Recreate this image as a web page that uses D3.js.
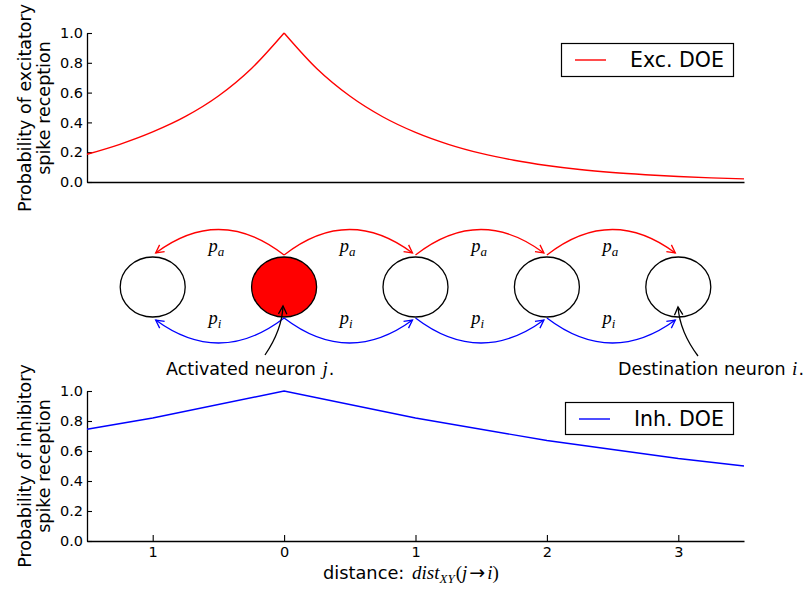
<!DOCTYPE html>
<html>
<head>
<meta charset="utf-8">
<script src="https://cdn.jsdelivr.net/npm/d3@7"></script>
<style>
  html, body { margin: 0; padding: 0; background: #ffffff; }
  svg { display: block; }
</style>
</head>
<body>
<script>
// ---------------- data ----------------
const excX = [-1.5, -1.25, -1, -0.75, -0.5, -0.25, 0, 0.25, 0.5, 0.75, 1, 1.25, 1.5, 1.75, 2, 2.25, 2.5, 2.75, 3, 3.25, 3.5];
const excY = [0.186, 0.253, 0.336, 0.44, 0.577, 0.76, 1.0, 0.76, 0.577, 0.438, 0.333, 0.253, 0.192, 0.146, 0.111, 0.084, 0.064, 0.049, 0.037, 0.028, 0.021];
const inhX = [-1.5, -1, 0, 1, 2, 3, 3.5];
const inhY = [0.745, 0.82, 1.0, 0.82, 0.67, 0.55, 0.50];
const yTicks = [0, 0.2, 0.4, 0.6, 0.8, 1.0];
const xTicks = [-1, 0, 1, 2, 3];
const xTickLabels = ["1", "0", "1", "2", "3"];
const seriesNames = ["Exc. DOE", "Inh. DOE"];
const seriesColors = ["#ff0000", "#0000ff"];
const neuronPos = [-1, 0, 1, 2, 3];
const activatedPos = 0;
const edges = [[0, -1], [0, 1], [1, 2], [2, 3]];

// ---------------- layout ----------------
const W = 805, H = 590;
const sansFont = "DejaVu Sans";
const mathFont = "Liberation Serif";
const svg = d3.select("body").append("svg").attr("width", W).attr("height", H);
svg.append("rect").attr("width", W).attr("height", H).attr("fill", "#fff");

const x = d3.scaleLinear().domain([-1.5, 3.5]).range([87, 744]);
const yTop = d3.scaleLinear().domain([0, 1]).range([182, 33]);
const yBot = d3.scaleLinear().domain([0, 1]).range([541, 391]);

function styleAxis(g) {
  g.attr("font-family", sansFont).attr("font-size", 14.5);
  g.select(".domain").attr("stroke", "#000").attr("stroke-width", 1.3);
  g.selectAll(".tick line").attr("stroke", "#000").attr("stroke-width", 1.1);
  g.selectAll(".tick text").attr("fill", "#000");
}

// top axes
svg.append("g").attr("transform", "translate(87,0)")
  .call(d3.axisLeft(yTop).tickValues(yTicks).tickFormat(d3.format(".1f")).tickSizeInner(-5).tickSizeOuter(0).tickPadding(4))
  .call(styleAxis);
svg.append("g").attr("transform", "translate(0,182)")
  .call(d3.axisBottom(x).tickValues([]).tickSizeOuter(0))
  .call(styleAxis);

// bottom axes
svg.append("g").attr("transform", "translate(87,0)")
  .call(d3.axisLeft(yBot).tickValues(yTicks).tickFormat(d3.format(".1f")).tickSizeInner(-5).tickSizeOuter(0).tickPadding(4))
  .call(styleAxis);
svg.append("g").attr("transform", "translate(0,541)")
  .call(d3.axisBottom(x).tickValues(xTicks).tickFormat((d, i) => xTickLabels[i]).tickSizeInner(-6).tickSizeOuter(0).tickPadding(6))
  .call(styleAxis);

// curves
const excPts = excX.map((v, i) => [v, excY[i]]);
const lineTop = d3.line().x(d => x(d[0])).y(d => yTop(d[1])).curve(d3.curveMonotoneX);
svg.append("path").datum(excPts.filter(d => d[0] <= 0)).attr("d", lineTop)
  .attr("fill", "none").attr("stroke", seriesColors[0]).attr("stroke-width", 1.4);
svg.append("path").datum(excPts.filter(d => d[0] >= 0)).attr("d", lineTop)
  .attr("fill", "none").attr("stroke", seriesColors[0]).attr("stroke-width", 1.4);

const inhPts = inhX.map((v, i) => [v, inhY[i]]);
svg.append("path").datum(inhPts)
  .attr("d", d3.line().x(d => x(d[0])).y(d => yBot(d[1])))
  .attr("fill", "none").attr("stroke", seriesColors[1]).attr("stroke-width", 1.4);

// y labels
function yLabel(cy, l1, l2) {
  [[31, l1], [50, l2]].forEach(([bx, t]) => {
    svg.append("text").attr("transform", `translate(${bx},${cy}) rotate(-90)`)
      .attr("text-anchor", "middle").attr("font-family", sansFont).attr("font-size", 17.5)
      .attr("fill", "#000").text(t);
  });
}
yLabel(108, "Probability of excitatory", "spike reception");
yLabel(466, "Probability of inhibitory", "spike reception");

// legends
function legend(x0, y0, w, h, color, name) {
  svg.append("rect").attr("x", x0 + 0.5).attr("y", y0 + 0.5).attr("width", w).attr("height", h)
    .attr("fill", "#fff").attr("stroke", "#000").attr("stroke-width", 1.2);
  svg.append("line").attr("x1", x0 + 14).attr("x2", x0 + 45).attr("y1", y0 + 17).attr("y2", y0 + 17)
    .attr("stroke", color).attr("stroke-width", 1.4);
  svg.append("text").attr("x", x0 + 69).attr("y", y0 + 24).attr("font-family", sansFont)
    .attr("font-size", 20.5).attr("fill", "#000").text(name);
}
legend(561, 43, 172, 33, seriesColors[0], seriesNames[0]);
legend(565, 402, 168, 32, seriesColors[1], seriesNames[1]);

// ---------------- diagram ----------------
const defs = svg.append("defs");
function marker(id, color) {
  defs.append("marker").attr("id", id).attr("viewBox", "-10 -6 12 12")
    .attr("markerUnits", "userSpaceOnUse").attr("markerWidth", 12).attr("markerHeight", 12)
    .attr("refX", 0).attr("refY", 0).attr("orient", "auto")
    .append("path").attr("d", "M-8,-4.2L0,0L-8,4.2").attr("fill", "none")
    .attr("stroke", color).attr("stroke-width", 1.3);
}
marker("arR", seriesColors[0]);
marker("arB", seriesColors[1]);
marker("arK", "#000");

const cy = 287, rx = 32.5, ry = 30;
svg.selectAll("ellipse.neuron").data(neuronPos).enter().append("ellipse")
  .attr("cx", d => x(d)).attr("cy", cy).attr("rx", rx).attr("ry", ry)
  .attr("fill", d => d === activatedPos ? "#ff0000" : "#fff")
  .attr("stroke", "#000").attr("stroke-width", 1.3);

edges.forEach(([a, b]) => {
  const x0 = x(a), x1 = x(b) + (b > a ? -3 : 3);
  const mx = (x0 + x(b)) / 2;
  svg.append("path")
    .attr("d", `M${x0},255Q${(x0 + x1) / 2},205 ${x1},253`)
    .attr("fill", "none").attr("stroke", seriesColors[0]).attr("stroke-width", 1.3)
    .attr("marker-end", "url(#arR)");
  svg.append("path")
    .attr("d", `M${x0},318Q${(x0 + x1) / 2},367 ${x1},320`)
    .attr("fill", "none").attr("stroke", seriesColors[1]).attr("stroke-width", 1.3)
    .attr("marker-end", "url(#arB)");
  [["a", 252], ["i", 324]].forEach(([sub, by]) => {
    const t = svg.append("text").attr("x", mx - 10).attr("y", by)
      .attr("font-family", mathFont).attr("font-style", "italic").attr("fill", "#000");
    t.append("tspan").attr("font-size", 18.5).text("p");
    t.append("tspan").attr("font-size", 13).attr("dy", 3.5).text(sub);
  });
});

// annotations
svg.append("path").attr("d", "M265,355Q282,330 283,306")
  .attr("fill", "none").attr("stroke", "#000").attr("stroke-width", 1.3).attr("marker-end", "url(#arK)");
svg.append("path").attr("d", "M698,356Q680,332 678,307")
  .attr("fill", "none").attr("stroke", "#000").attr("stroke-width", 1.3).attr("marker-end", "url(#arK)");

function annot(x0, y0, label, v) {
  const t = svg.append("text").attr("x", x0).attr("y", y0).attr("font-family", sansFont)
    .attr("font-size", 17.5).attr("fill", "#000");
  t.append("tspan").text(label);
  t.append("tspan").attr("font-family", mathFont).attr("font-style", "italic").attr("font-size", 19).attr("dx", 1).text(v);
  t.append("tspan").attr("dx", 1).text(".");
}
annot(166, 375, "Activated neuron ", "j");
annot(618, 375, "Destination neuron ", "i");

// x label
const xl = svg.append("text").attr("x", 323).attr("y", 579).attr("font-family", sansFont)
  .attr("font-size", 17.8).attr("fill", "#000");
xl.append("tspan").text("distance: ");
xl.append("tspan").attr("font-family", mathFont).attr("font-style", "italic").attr("font-size", 19).attr("dx", 2).text("dist");
xl.append("tspan").attr("font-family", mathFont).attr("font-style", "italic").attr("font-size", 13).attr("dy", 3.5).text("XY");
xl.append("tspan").attr("font-family", mathFont).attr("font-size", 19).attr("dy", -3.5).attr("dx", 1).text("(");
xl.append("tspan").attr("font-family", mathFont).attr("font-style", "italic").attr("font-size", 19).text("j");
xl.append("tspan").attr("font-family", sansFont).attr("font-size", 19).attr("dx", 2).text("\u2192");
xl.append("tspan").attr("font-family", mathFont).attr("font-style", "italic").attr("font-size", 19).attr("dx", 2).text("i");
xl.append("tspan").attr("font-family", mathFont).attr("font-size", 19).text(")");
</script>
</body>
</html>
